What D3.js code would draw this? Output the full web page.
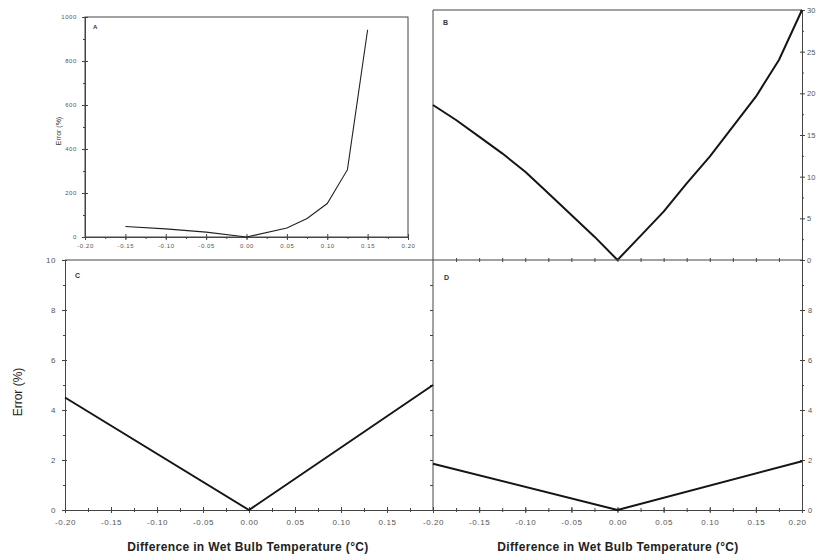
<!DOCTYPE html>
<html><head><meta charset="utf-8">
<script src="https://cdn.jsdelivr.net/npm/d3@7"></script>
<style>
body{margin:0;background:#fff;}
svg{display:block;font-family:Arial,"Liberation Sans",sans-serif;}
</style></head>
<body><div id="chart"></div>
<script>
// ---- data ----
const xTicks = [-0.20,-0.15,-0.10,-0.05,0.00,0.05,0.10,0.15,0.20];
const aX = [-0.15,-0.10,-0.05,0.00,0.05,0.075,0.10,0.125,0.15];
const aY = [48,37,22,0,41,84,152,306,942];
const bX = [-0.20,-0.175,-0.15,-0.125,-0.10,-0.075,-0.05,-0.025,0.00,0.025,0.05,0.075,0.10,0.125,0.15,0.175,0.20];
const bY = [18.6,16.8,14.8,12.8,10.6,8.0,5.4,2.8,0,2.9,5.8,9.2,12.4,16.0,19.6,24.0,30.0];
const cX = [-0.20,0.00,0.20];
const cY = [4.5,0,5.0];
const dX = [-0.20,0.00,0.20];
const dY = [1.85,0,1.95];
const aYTicks = [0,200,400,600,800,1000];
const bYTicks = [0,5,10,15,20,25,30];
const cdYTicks = [0,2,4,6,8,10];
const xTitle = "Difference in Wet Bulb Temperature (°C)";
const yTitle = "Error (%)";

const W = 817, H = 559;
const svg = d3.select("#chart").append("svg").attr("width",W).attr("height",H);
const axisCol = "#444", labCol = "#555", lineCol = "#151515";

function fmt2(v){ return (Math.abs(v)<1e-9?0:v).toFixed(2); }
const fmtInt = d3.format("d");

function styleAxis(g, lab, fs, ls){
  g.select(".domain").attr("stroke",axisCol).attr("stroke-width",1);
  g.selectAll(".tick line").attr("stroke",axisCol);
  g.selectAll(".tick text").attr("fill",labCol).style("font-size",fs+"px")
    .style("letter-spacing",(ls===undefined?0.6:ls)+"px");
}

// ===== Panel A =====
const ax = d3.scaleLinear().domain([-0.2,0.2]).range([85,408]);
const ay = d3.scaleLinear().domain([0,1000]).range([237,17]);
const gA = svg.append("g");
gA.append("rect").attr("x",85).attr("y",17).attr("width",408-85).attr("height",237-17)
  .attr("fill","none").attr("stroke",axisCol).attr("stroke-width",1);
gA.append("g").attr("transform","translate(0,237)")
  .call(d3.axisBottom(ax).tickValues(d3.range(-0.2,0.2001,0.025)).tickFormat("").tickSize(2))
  .call(g=>styleAxis(g,false,6));
gA.append("g").attr("transform","translate(0,237)")
  .call(d3.axisBottom(ax).tickValues(xTicks).tickFormat(fmt2).tickSize(3).tickPadding(4))
  .call(g=>styleAxis(g,true,6))
  .call(g=>g.selectAll(".tick line").attr("y1",-3));
gA.append("g").attr("transform","translate(85,0)")
  .call(d3.axisLeft(ay).tickValues(d3.range(100,1000,200)).tickFormat("").tickSize(2))
  .call(g=>styleAxis(g,false,6));
gA.append("g").attr("transform","translate(85,0)")
  .call(d3.axisLeft(ay).tickValues(aYTicks).tickFormat(fmtInt).tickSize(3).tickPadding(5))
  .call(g=>styleAxis(g,true,6))
  .call(g=>g.selectAll(".tick line").attr("x1",3));
gA.append("text").attr("transform","translate(61,131) rotate(-90)").attr("text-anchor","middle")
  .style("font-size","7px").attr("fill","#333").text(yTitle);
gA.append("text").attr("x",93).attr("y",29).style("font-size","6px").style("font-weight","bold").attr("fill","#333").text("A");
gA.append("path").datum(aX.map((x,i)=>[x,aY[i]]))
  .attr("d",d3.line().x(d=>ax(d[0])).y(d=>ay(d[1])))
  .attr("fill","none").attr("stroke","#222").attr("stroke-width",1.1);

// ===== Panel B =====
const bx = d3.scaleLinear().domain([-0.2,0.2]).range([433,802]);
const by = d3.scaleLinear().domain([0,30]).range([260,10]);
const gB = svg.append("g");
gB.append("line").attr("x1",433).attr("x2",802).attr("y1",10).attr("y2",10).attr("stroke",axisCol);
gB.append("line").attr("x1",433).attr("x2",433).attr("y1",10).attr("y2",260).attr("stroke",axisCol);
gB.append("g").attr("transform","translate(802,0)")
  .call(d3.axisRight(by).tickValues(d3.range(2.5,30,5)).tickFormat("").tickSize(2))
  .call(g=>styleAxis(g,false,7.5));
gB.append("g").attr("transform","translate(802,0)")
  .call(d3.axisRight(by).tickValues(bYTicks).tickSize(3).tickPadding(2))
  .call(g=>styleAxis(g,true,7.5,0.2))
  .call(g=>g.selectAll(".tick line").attr("x1",-2));
gB.append("text").attr("x",443).attr("y",25).style("font-size","7px").style("font-weight","bold").attr("fill","#333").text("B");

// ===== Panels C and D =====
const cx = d3.scaleLinear().domain([-0.2,0.2]).range([65,433]);
const cy = d3.scaleLinear().domain([0,10]).range([510,260]);
const dx = d3.scaleLinear().domain([-0.2,0.2]).range([433,802]);
const dy = d3.scaleLinear().domain([0,10]).range([510,260]);

const gC = svg.append("g");
gC.append("line").attr("x1",65).attr("x2",802).attr("y1",260).attr("y2",260).attr("stroke",axisCol);
gC.append("g").attr("transform","translate(0,260)")
  .call(d3.axisBottom(bx).tickValues(d3.range(-0.175,0.2001,0.025)).tickFormat("").tickSize(2))
  .call(g=>styleAxis(g,false,8))
  .call(g=>g.selectAll(".tick line").attr("y1",-2))
  .call(g=>g.select(".domain").remove());
gC.append("line").attr("x1",433).attr("x2",433).attr("y1",260).attr("y2",510).attr("stroke",axisCol);
gC.append("g").attr("transform","translate(433,0)")
  .call(d3.axisLeft(cy).tickValues([1,2,3,4,5,6,7,8,9]).tickFormat("").tickSize(3))
  .call(g=>styleAxis(g,false,8))
  .call(g=>g.select(".domain").remove());

gC.append("g").attr("transform","translate(65,0)")
  .call(d3.axisLeft(cy).tickValues(d3.range(1,10,2)).tickFormat("").tickSize(2))
  .call(g=>styleAxis(g,false,8));
gC.append("g").attr("transform","translate(65,0)")
  .call(d3.axisLeft(cy).tickValues(cdYTicks).tickSize(3).tickPadding(6))
  .call(g=>styleAxis(g,true,8))
  .call(g=>g.selectAll(".tick line").attr("x1",2));
gC.append("g").attr("transform","translate(0,510)")
  .call(d3.axisBottom(cx).tickValues(d3.range(-0.2,0.2001,0.025)).tickFormat("").tickSize(2))
  .call(g=>styleAxis(g,false,8))
  .call(g=>g.selectAll(".tick line").attr("y1",-2));
gC.append("g").attr("transform","translate(0,510)")
  .call(d3.axisBottom(cx).tickValues(xTicks.slice(0,8)).tickFormat(fmt2).tickSize(3).tickPadding(6))
  .call(g=>styleAxis(g,true,8))
  .call(g=>g.selectAll(".tick line").attr("y1",-3));
gC.append("text").attr("x",75).attr("y",278).style("font-size","7px").style("font-weight","bold").attr("fill","#333").text("C");
gC.append("text").attr("transform","translate(22,392) rotate(-90)").attr("text-anchor","middle")
  .style("font-size","12px").attr("fill","#222").text(yTitle);
gC.append("text").attr("x",248).attr("y",551).attr("text-anchor","middle")
  .style("font-size","12px").style("font-weight","bold").style("letter-spacing","0.35px").attr("fill","#222").text(xTitle);

// D
const gD = svg.append("g");
gD.append("g").attr("transform","translate(802,0)")
  .call(d3.axisRight(dy).tickValues(d3.range(1,10,2)).tickFormat("").tickSize(2))
  .call(g=>styleAxis(g,false,7.5));
gD.append("g").attr("transform","translate(802,0)")
  .call(d3.axisRight(dy).tickValues(cdYTicks.slice(0,5)).tickSize(3).tickPadding(3))
  .call(g=>styleAxis(g,true,7.5,0.2))
  .call(g=>g.selectAll(".tick line").attr("x1",-2));
gD.append("g").attr("transform","translate(0,510)")
  .call(d3.axisBottom(dx).tickValues(d3.range(-0.2,0.2001,0.025)).tickFormat("").tickSize(2))
  .call(g=>styleAxis(g,false,8))
  .call(g=>g.selectAll(".tick line").attr("y1",-2));
gD.append("g").attr("transform","translate(0,510)")
  .call(d3.axisBottom(dx).tickValues(xTicks).tickFormat(fmt2).tickSize(3).tickPadding(6))
  .call(g=>styleAxis(g,true,8))
  .call(g=>g.selectAll(".tick line").attr("y1",-3))
  .call(g=>g.selectAll(".tick text").filter(d=>d>0.19).attr("text-anchor","end").attr("dx","4"));
gD.append("text").attr("x",444).attr("y",280).style("font-size","7px").style("font-weight","bold").attr("fill","#333").text("D");
gD.append("text").attr("x",618).attr("y",551).attr("text-anchor","middle")
  .style("font-size","12px").style("font-weight","bold").style("letter-spacing","0.35px").attr("fill","#222").text(xTitle);

const thick = (g, xs, ys, sx, sy) => g.append("path").datum(xs.map((x,i)=>[x,ys[i]]))
  .attr("d",d3.line().x(d=>sx(d[0])).y(d=>sy(d[1])))
  .attr("fill","none").attr("stroke",lineCol).attr("stroke-width",2).attr("stroke-linejoin","round");
thick(gB,bX,bY,bx,by);
thick(gC,cX,cY,cx,cy);
thick(gD,dX,dY,dx,dy);
</script></body></html>
